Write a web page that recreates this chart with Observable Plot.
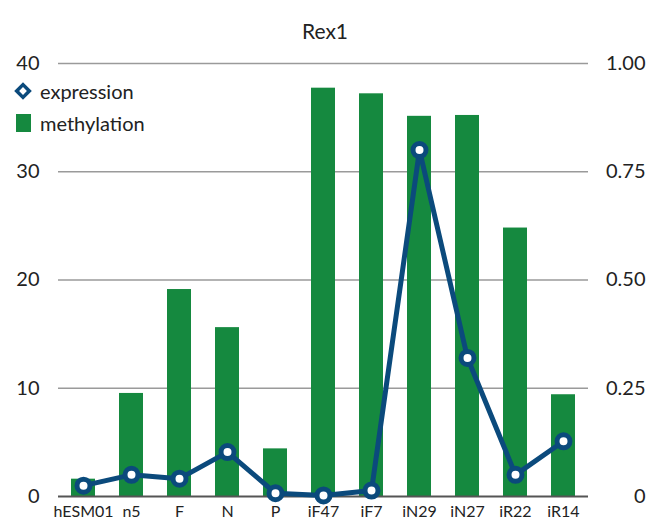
<!DOCTYPE html>
<html>
<head>
<meta charset="utf-8">
<script src="https://cdn.jsdelivr.net/npm/d3@7"></script>
<script src="https://cdn.jsdelivr.net/npm/@observablehq/plot@0.6"></script>
<style>
  body { margin: 0; background: #fff; font-family: Lato, "Open Sans", sans-serif; color: #222; }
  #wrap { position: relative; width: 650px; }
  #title { height: 50px; line-height: 62px; text-align: center; font-size: 21px; }
  #legend { position: absolute; left: 14px; top: 75px; font-size: 20px; line-height: 32px; }
  #legend div { display: flex; align-items: center; }
  #legend svg { margin-right: 8px; }
</style>
</head>
<body>
<div id="wrap">
  <div id="title">Rex1</div>
  <div id="chart"></div>
  <div id="legend">
    <div><svg width="18" height="18"><rect x="4.5" y="4.5" width="9" height="9" transform="rotate(45 9 9)" fill="white" stroke="#0b4a7c" stroke-width="3.5"/></svg>expression</div>
    <div><svg width="18" height="20"><rect x="2" y="1" width="15" height="18" fill="#15893f"/></svg>methylation</div>
  </div>
</div>
<script>
const categories = ["hESM01", "n5", "F", "N", "P", "iF47", "iF7", "iN29", "iN27", "iR22", "iR14"];
const expression = [1.0, 2.0, 1.65, 4.1, 0.3, 0.1, 0.55, 32.0, 12.8, 2.0, 5.1];
const methylation = [0.04, 0.238, 0.478, 0.39, 0.11, 0.943, 0.93, 0.878, 0.88, 0.62, 0.235];
const leftTicks = [0, 10, 20, 30, 40];
const rightTickLabels = ["0", "0.25", "0.50", "0.75", "1.00"];

const data = categories.map((c, i) => ({cat: c, expr: expression[i], meth: methylation[i]}));
const navy = "#0b4a7c";
const green = "#15893f";

const chart = Plot.plot({
  width: 650,
  height: 471,
  marginTop: 13,
  marginBottom: 25,
  marginLeft: 58,
  marginRight: 62,
  style: {fontFamily: "Lato, 'Open Sans', sans-serif", color: "#222", background: "transparent"},
  x: {domain: categories, paddingInner: 0.5, paddingOuter: 0.25, axis: null},
  y: {domain: [0, 40], axis: null},
  marks: [
    Plot.gridY(leftTicks.slice(1), {stroke: "#9a9a9a", strokeOpacity: 1, strokeWidth: 1.5}),
    Plot.barY(data, {x: "cat", y: d => d.meth * 40, fill: green}),
    Plot.ruleY([0], {stroke: "#555", strokeWidth: 2}),
    Plot.line(data, {x: "cat", y: "expr", stroke: navy, strokeWidth: 5}),
    Plot.dot(data, {x: "cat", y: "expr", r: 6.5, fill: "white", stroke: navy, strokeWidth: 5}),
    Plot.axisY({anchor: "left", label: null, ticks: leftTicks, tickSize: 0, tickPadding: 19, fontSize: 20, tickFormat: d => String(d)}),
    Plot.axisY({anchor: "right", label: null, ticks: leftTicks, tickSize: 0, tickPadding: 57, fontSize: 20, textAnchor: "end",
      tickFormat: d => rightTickLabels[leftTicks.indexOf(d)]}),
    Plot.axisX({label: null, tickSize: 0, tickPadding: 9, fontSize: 16})
  ]
});
document.getElementById("chart").appendChild(chart);
</script>
</body>
</html>
